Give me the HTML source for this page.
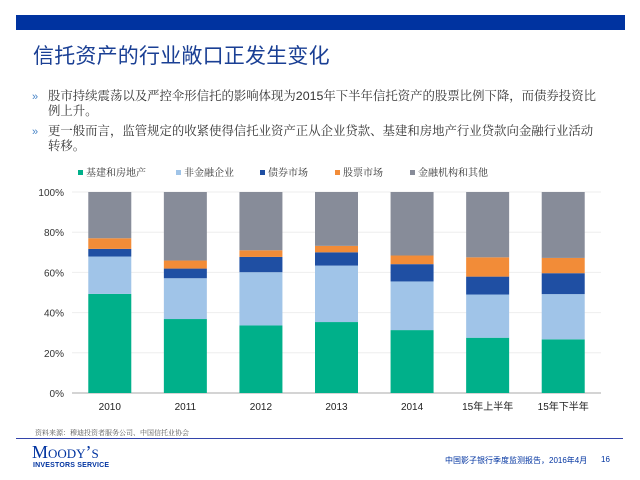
<!DOCTYPE html>
<html><head><meta charset="utf-8"><style>
body{margin:0;width:640px;height:480px;background:#fff;position:relative;overflow:hidden;font-family:"Liberation Sans","Noto Sans CJK SC",sans-serif;}
.abs{position:absolute;}
.b{font-size:12.4px;color:#333;line-height:15px;left:48px;white-space:nowrap;font-family:"Liberation Sans","Noto Serif CJK SC",serif;}
.arrow{color:#4a86c8;font-size:11px;left:32px;}
</style></head><body>
<div class="abs" style="left:16px;top:15px;width:609px;height:15px;background:#0033a0"></div>
<div class="abs" style="left:33px;top:40px;font-size:21px;letter-spacing:0.2px;color:#1a3f94;font-family:'Noto Sans CJK SC',sans-serif;">信托资产的行业敞口正发生变化</div>
<div class="abs arrow" style="top:91px">»</div>
<div class="abs b" style="top:89px">股市持续震荡以及严控伞形信托的影响体现为2015年下半年信托资产的股票比例下降，而债券投资比<br>例上升。</div>
<div class="abs arrow" style="top:126px">»</div>
<div class="abs b" style="top:124px">更一般而言，监管规定的收紧使得信托业资产正从企业贷款、基建和房地产行业贷款向金融行业活动<br>转移。</div>
<svg class="abs" style="left:0;top:0" width="640" height="480" id="chart"></svg>
<div class="abs" style="left:35px;top:428px;font-size:7px;color:#555;font-family:'Noto Serif CJK SC',serif">资料来源：穆迪投资者服务公司、中国信托业协会</div>
<div class="abs" style="left:16px;top:438px;width:607px;height:1px;background:#3344aa"></div>
<div class="abs" style="left:32px;top:442px;font-family:'Liberation Serif',serif;font-size:18px;color:#0033a0;font-variant:small-caps;">Moody’s</div>
<div class="abs" style="left:33px;top:462px;font-size:7px;font-weight:bold;color:#0033a0;letter-spacing:0.2px">INVESTORS SERVICE</div>
<div class="abs" style="left:445px;top:455px;font-size:8px;color:#0033a0">中国影子银行季度监测报告，2016年4月</div>
<div class="abs" style="left:601px;top:455px;font-size:8px;color:#0033a0">16</div>
<script>
const categories=["2010","2011","2012","2013","2014","15年上半年","15年下半年"];
const seriesNames=["基建和房地产","非金融企业","债券市场","股票市场","金融机构和其他"];
const infra=[49.3,36.8,33.6,35.3,31.3,27.5,26.7];
const nonfin=[18.6,20.3,26.5,28.1,24.2,21.5,22.5];
const bonds=[3.8,4.8,7.6,6.6,8.6,8.9,10.4];
const stocks=[5.3,4.0,3.3,3.2,4.3,9.6,7.6];
const others=[23.0,34.1,29.0,26.8,31.6,32.5,32.8];
const yTicks=[0,20,40,60,80,100];
const colors=["#00b08a","#a0c4e8","#1f4fa3","#f28c38","#878c99"];
const series=[infra,nonfin,bonds,stocks,others];
const svg=document.getElementById('chart');const NS="http://www.w3.org/2000/svg";
const plotTop=192,plotBot=393,plotLeft=72,plotRight=601;
const y=v=>plotBot-(v/100)*(plotBot-plotTop);
const step=(plotRight-plotLeft)/categories.length;
const x=i=>plotLeft+step*(i+0.5);
const bw=43;
function mk(t,a){const e=document.createElementNS(NS,t);for(const k in a)e.setAttribute(k,a[k]);svg.appendChild(e);return e;}
yTicks.forEach(t=>{
 const g=mk('line',{x1:plotLeft,x2:plotRight,y1:y(t),y2:y(t),stroke:t===0?'#aaa':'#eee','stroke-width':1});
 
 
 const l=mk('text',{x:64,y:y(t)+4,'text-anchor':'end','font-size':10,fill:'#333','font-family':'Liberation Sans, sans-serif'});
 l.textContent=t+'%';
 
 
});
categories.forEach((c,i)=>{
 let cum=0;
 series.forEach((s,j)=>{
  const r=mk('rect',{x:x(i)-bw/2,y:y(cum+s[i]),width:bw,height:y(cum)-y(cum+s[i]),fill:colors[j]});
  
  
  cum+=s[i];
 });
 const t=mk('text',{x:x(i),y:410,'text-anchor':'middle','font-size':10,fill:'#222','font-family':'Liberation Sans, Noto Sans CJK SC, sans-serif'});
 t.textContent=c;
 
 
});
const lx=[78,176,260,335,410];
seriesNames.forEach((n,j)=>{
 const r=mk('rect',{x:lx[j],y:170,width:5,height:5,fill:colors[j]});
 
 
 const t=mk('text',{x:lx[j]+8,y:176,'font-size':10,fill:'#333','font-family':'Noto Serif CJK SC, serif'});
 t.textContent=n;
 
 
});
</script>
</body></html>
